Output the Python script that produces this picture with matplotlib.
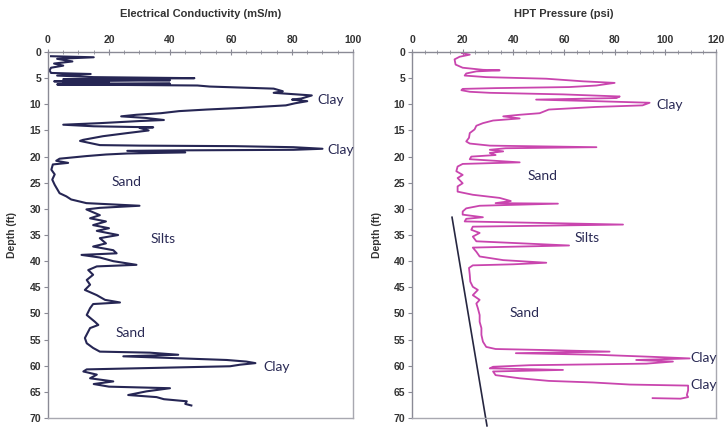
import matplotlib
matplotlib.use("Agg")
import matplotlib.pyplot as plt
from matplotlib.ticker import MultipleLocator

# Electrical conductivity log (mS/m) vs depth (ft)
ec_depth = [0.8, 1.0, 1.3, 1.8, 2.2, 2.6, 3.0, 3.5, 4.0, 4.2, 4.5, 4.8, 5.0, 5.2, 5.4, 5.6,
            5.8, 6.0, 6.05, 6.2, 6.4, 6.6, 7.0, 7.5, 7.8, 8.3, 8.9, 9.1, 9.4, 9.8, 10.2,
            10.7, 11.0, 11.3, 11.7, 12.0, 12.3, 12.6, 13.0, 13.2, 13.6, 13.9, 14.2, 14.4,
            14.5, 15.0, 15.5, 16.1, 16.8, 17.0, 17.4, 17.8, 17.9, 18.0, 18.2, 18.5, 18.7,
            18.8, 18.9, 19.2, 19.4, 19.6, 19.9, 20.4, 20.8, 21.2, 21.5, 22.5, 23.4, 24.4,
            25.4, 26.2, 27.0, 27.6, 28.2, 28.9, 29.4, 29.8, 30.1, 31.2, 31.8, 32.4, 33.1,
            33.7, 34.2, 35.0, 35.6, 36.6, 37.2, 37.9, 38.5, 38.8, 39.3, 40.0, 40.7, 41.0,
            41.7, 42.6, 43.6, 44.5, 45.5, 46.5, 47.4, 47.9, 48.2, 49.0, 50.3, 51.6, 52.2,
            52.8, 53.8, 54.7, 55.7, 56.6, 57.3, 57.5, 57.9, 58.2, 58.6, 58.9, 59.2, 59.5,
            59.8, 60.1, 60.5, 60.7, 61.1, 61.7, 62.4, 63.0, 63.5, 64.0, 64.3, 64.9, 65.6,
            66.0, 66.4, 66.8, 67.3, 67.6]
ec_value = [1, 15, 3, 8, 2, 5, 1, 0.5, 1, 14, 3, 15, 48, 5, 40, 2,
            20, 5, 40, 3, 49, 53, 74, 77, 74, 86.5, 83, 80, 85, 81, 78,
            63, 52, 43, 37, 29, 24, 32, 38, 30, 17, 5, 15, 34.5,
            30, 33, 26, 18, 11.5, 10.5, 13.7, 17, 30, 61, 80.5, 90, 80.5,
            45, 26, 45, 26, 19, 12.6, 3.8, 2.7, 6.6, 1.6, 1.1, 2.2, 1.4,
            2.2, 3, 3.8, 6, 7.6, 12.6, 30, 17, 12.6, 17, 13.8, 19, 14.8,
            20, 16, 23, 17, 19, 14.8, 21.4, 22.5, 11, 17, 21.4, 29, 16,
            13.2, 14.8, 12.7, 13.8, 12.1, 16, 18.7, 23.6, 14.8, 13.8, 12.7, 15.4,
            16.5, 13.8, 12.9, 12.1, 12.7, 14.8, 17, 33.4, 42.7, 24.7, 44.4, 58.6, 65, 68,
            63, 59.7, 28, 12.7, 11.6, 16, 13.8, 21.4, 15, 20, 40, 32.3, 26.3,
            35.6, 38, 45.5, 45, 47]

# HPT pressure log (psi) vs depth (ft)
hpt_depth = [0.2, 0.5, 0.9, 1.4, 2.4, 3.0, 3.4, 3.5, 3.7, 4.1, 4.5, 4.8, 5.1, 5.6, 5.9,
             6.4, 6.7, 6.9, 7.05, 7.3, 7.6, 7.8, 8.1, 8.5, 8.8, 9.1, 9.4, 9.7, 10.2,
             10.5, 11.0, 11.7, 12.0, 12.3, 12.7, 13.1, 13.6, 14.1, 14.8, 15.5, 16.4,
             17.1, 17.5, 17.9, 18.2, 18.4, 18.7, 19.0, 19.3, 19.7, 20.0, 20.5, 21.1,
             21.4, 21.9, 22.8, 23.5, 24.1, 25.1, 25.7, 26.7, 27.3, 27.9, 28.5, 28.9,
             29.0, 29.4, 29.9, 30.5, 31.1, 31.6, 31.9, 32.4, 33.0, 33.4, 34.0, 34.6,
             35.3, 36.2, 37.0, 37.4, 38.2, 39.1, 39.8, 40.3, 40.6, 40.8, 41.3, 42.6,
             43.9, 44.9, 45.5, 46.5, 47.4, 48.1, 49.0, 50.3, 51.6, 52.8, 54.1, 55.4,
             56.4, 56.8, 57.0, 57.3, 57.6, 57.9, 58.3, 58.6, 58.9, 59.2, 59.6, 59.9,
             60.2, 60.5, 60.8, 61.1, 61.8, 62.4, 62.9, 63.2, 63.6, 63.8, 64.7, 65.6,
             66.0, 66.3, 66.2]
hpt_value = [19.7, 22.8, 18.8, 16.8, 17.2, 20, 28, 34.6, 25.4, 21.4, 20.8, 29.3, 53, 67.5, 80,
             72.8, 62, 33, 20, 19.5, 22.8, 30.7, 59.6, 82, 80.7, 49, 72.8, 93.8, 91,
             72.8, 54, 50.4, 42.5, 36, 42.5, 32, 28, 25.4, 24.7, 22.8, 22.5,
             21.4, 22.8, 30.7, 72.8, 37, 30.7, 36, 30.7, 33, 23.4, 22.8, 42.5,
             20, 18, 17.5, 20, 18, 20, 18, 18, 24, 34.6, 39, 33,
             57.6, 26.7, 21.4, 20, 20, 28, 21.4, 20.8, 83.3, 24, 23.4, 26.7,
             24, 25.4, 62, 24, 25.4, 26.7, 36, 53, 40, 24, 22.5, 22.8,
             23, 24, 26, 24, 26.7, 25.4, 26, 26.7, 26.7, 27.4, 27.4, 28,
             29.3, 33, 53, 78, 41, 72.8, 95, 109.6, 88.5, 103, 92.5, 46.4,
             32, 30.7, 59.6, 32, 33, 42.5, 54, 71.4, 86, 109, 109, 108.5,
             109, 106, 95]

# straight reference line drawn on the HPT panel
trend_value = [15.8, 29.6]
trend_depth = [31.6, 71.5]

ec_labels = [("Clay", 88.2, 9.2), ("Clay", 91.5, 18.7), ("Sand", 21, 24.8),
             ("Silts", 33.7, 35.8), ("Sand", 22, 53.7), ("Clay", 70.6, 60.2)]
hpt_labels = [("Clay", 96.3, 10.1), ("Sand", 45.8, 23.8), ("Silts", 64.3, 35.5),
              ("Sand", 38.7, 49.9), ("Clay", 109.8, 58.5), ("Clay", 109.8, 63.7)]

fig = plt.figure(figsize=(7.26, 4.29), dpi=100)
ax1 = fig.add_axes([0.0661, 0.0256, 0.4201, 0.8531])
ax2 = fig.add_axes([0.5675, 0.0256, 0.4187, 0.8531])

label_font = dict(family="Liberation Sans", weight="bold", size=7.5, color="#333333")
text_font = dict(family="Lato", size=10, color="#2a2a55")


def style(ax, xmax, title):
    ax.set_xlim(0, xmax)
    ax.set_ylim(70, 0)
    ax.xaxis.tick_top()
    ax.xaxis.set_major_locator(MultipleLocator(20))
    ax.xaxis.set_minor_locator(MultipleLocator(5))
    ax.yaxis.set_major_locator(MultipleLocator(5))
    for s in ax.spines.values():
        s.set_color("#a8a8b0")
        s.set_linewidth(1.0)
    ax.spines["left"].set_color("#8a8a95")
    ax.spines["top"].set_color("#8a8a95")
    ax.tick_params(axis="x", which="major", direction="inout", length=4, color="#8a8a95", pad=3)
    ax.tick_params(axis="x", which="minor", direction="inout", length=3, color="#8a8a95")
    ax.tick_params(axis="y", which="major", direction="out", length=3, color="#8a8a95", pad=2)
    for t in ax.get_xticklabels() + ax.get_yticklabels():
        t.set(**label_font)
    ax.set_ylabel("Depth (ft)", **label_font)
    ax.yaxis.set_label_coords(-0.10, 0.5)
    ax.text(0.5, 1.104, title, transform=ax.transAxes, ha="center", va="center",
            family="Liberation Sans", weight="bold", size=8, color="#333333")


style(ax1, 100, "Electrical Conductivity (mS/m)")
style(ax2, 120, "HPT Pressure (psi)")

ax1.plot(ec_value, ec_depth, color="#262654", lw=1.5)
ax2.plot(hpt_value, hpt_depth, color="#c945ae", lw=1.3)
ax2.plot(trend_value, trend_depth, color="#262640", lw=1.2, clip_on=False)

for txt, x, y in ec_labels:
    ax1.text(x, y, txt, ha="left", va="center", **text_font)
for txt, x, y in hpt_labels:
    ax2.text(x, y, txt, ha="left", va="center", clip_on=False, **text_font)

fig.savefig("out.png", dpi=100)
